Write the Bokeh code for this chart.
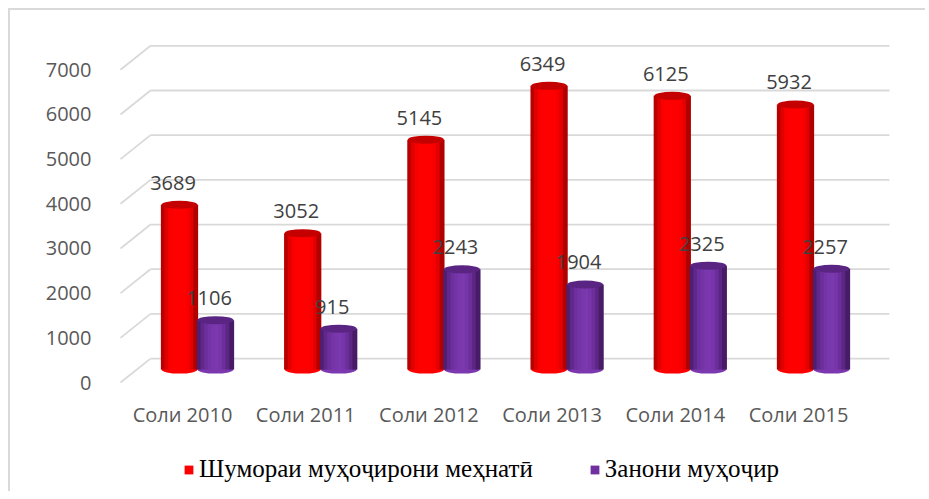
from bokeh.plotting import figure
from bokeh.layouts import column
from bokeh.models import Range1d, FixedTicker, Legend, LegendItem
from bokeh.core.properties import value
from bokeh.embed import file_html
from bokeh.resources import INLINE

# ---------------- data ----------------
categories = ["Соли 2010", "Соли 2011", "Соли 2012", "Соли 2013", "Соли 2014", "Соли 2015"]
labour_migrants = [3689, 3052, 5145, 6349, 6125, 5932]
women_migrants = [1106, 915, 2243, 1904, 2325, 2257]
series_names = ["Шумораи муҳоҷирони меҳнатӣ", "Занони муҳоҷир"]
y_ticks = [0, 1000, 2000, 3000, 4000, 5000, 6000, 7000]

# ---------------- geometry (pixels) ----------------
W, H1, H2 = 915, 420, 61
FRAME_L, FRAME_R, FRAME_T, FRAME_B = 95, 915, 0, 380   # canvas px
CAT_STEP = 123.2            # px per category
FIRST_CAT = 172.0           # canvas px of first category centre (front plane)
PX_PER_UNIT = 0.0448        # px per value unit
FRONT_ZERO = 373.0          # canvas px of value 0 on front plane
MID_ZERO = 360.0            # value 0 for the cylinders (mid depth)
BACK_DY = 24.0              # px the back wall is raised
MID_DX = 15.0               # px the cylinders are shifted right
DIAG_X0, DIAG_X1, GRID_X1 = 110.0, 140.0, 879.0   # canvas px

def xu(px):
    return (px - FIRST_CAT) / CAT_STEP

xs, xe = xu(FRAME_L), xu(FRAME_R)
ys = -(FRAME_B - FRONT_ZERO) / PX_PER_UNIT
ye = ys + (FRAME_B - FRAME_T) / PX_PER_UNIT
ys_mid = -(FRAME_B - MID_ZERO) / PX_PER_UNIT
dx_mid = MID_DX / CAT_STEP
back_du = BACK_DY / PX_PER_UNIT

p = figure(width=W, height=H1, x_range=Range1d(xs, xe), y_range=Range1d(ys, ye),
           output_backend="svg", toolbar_location=None,
           min_border_left=FRAME_L, min_border_right=0, min_border_top=0,
           min_border_bottom=H1 - FRAME_B)
p.extra_x_ranges = {"mid": Range1d(xs - dx_mid, xe - dx_mid)}
p.extra_y_ranges = {"mid": Range1d(ys_mid, ys_mid + (ye - ys))}
p.outline_line_color = None
p.background_fill_color = "white"
p.border_fill_color = "white"
p.grid.visible = False

# ---------------- 3D wall gridlines ----------------
gx0 = [xu(DIAG_X0)] * len(y_ticks)
gx1 = [xu(DIAG_X1)] * len(y_ticks)
gx2 = [xu(GRID_X1)] * len(y_ticks)
yb = [v + back_du for v in y_ticks]
p.segment(x0=gx0, y0=y_ticks, x1=gx1, y1=yb, line_color="#d9d9d9", line_width=1.8)
p.segment(x0=gx1, y0=yb, x1=gx2, y1=yb, line_color="#d9d9d9", line_width=1.8)

# ---------------- cylinders ----------------
BAR_W = 36.0 / CAT_STEP
red_strips = ["#b80000", "#e00000", "#f60000", "#ff0000", "#ff0000", "#ff0000",
              "#ff0000", "#f80000", "#e40000", "#b00000"]
purple_strips = ["#4e1f70", "#61288c", "#6d2f9d", "#7434a6", "#7937ac", "#7b38af",
                 "#7635a9", "#6b2e9a", "#5c2684", "#471b66"]
series = [
    (labour_migrants, -BAR_W / 2, red_strips, "#c40000"),
    (women_migrants, BAR_W / 2, purple_strips, "#5a2582"),
]
for vals, off, strips, cap in series:
    xc = [i + off for i in range(len(categories))]
    p.ellipse(x=xc, y=[0] * len(xc), width=BAR_W, height=8, height_units="screen",
              fill_color=strips[5], line_color=None, x_range_name="mid", y_range_name="mid")
    n = len(strips)
    sw = BAR_W / n
    for j, col in enumerate(strips):
        sx = [x - BAR_W / 2 + sw * (j + 0.5) for x in xc]
        p.vbar(x=sx, width=sw * 1.35, bottom=0, top=vals, fill_color=col,
               line_color=None, x_range_name="mid", y_range_name="mid")
    p.ellipse(x=xc, y=vals, width=BAR_W, height=8, height_units="screen",
              fill_color=cap, line_color=None, x_range_name="mid", y_range_name="mid")
    p.text(x=xc, y=vals, text=[str(v) for v in vals], x_offset=-6.5, y_offset=-22,
           text_align="center", text_baseline="middle", text_font=value("Open Sans"),
           text_font_size="20px", text_color="#404040",
           x_range_name="mid", y_range_name="mid")

# ---------------- axes ----------------
p.yaxis.ticker = FixedTicker(ticks=y_ticks)
p.yaxis.axis_line_color = None
p.yaxis.major_tick_line_color = None
p.yaxis.minor_tick_line_color = None
p.yaxis.major_label_standoff = 8
p.yaxis.major_label_text_font = "Open Sans"
p.yaxis.major_label_text_font_size = "20px"
p.yaxis.major_label_text_color = "#595959"

p.xaxis.ticker = FixedTicker(ticks=list(range(len(categories))))
p.xaxis.major_label_overrides = {i: c for i, c in enumerate(categories)}
p.xaxis.axis_line_color = None
p.xaxis.major_tick_line_color = None
p.xaxis.minor_tick_line_color = None
p.xaxis.major_label_standoff = 5
p.xaxis.major_label_text_font = "Open Sans"
p.xaxis.major_label_text_font_size = "20px"
p.xaxis.major_label_text_color = "#595959"

# ---------------- legend (own strip below) ----------------
q = figure(width=W, height=H2, x_range=Range1d(0, 1), y_range=Range1d(0, 1),
           x_axis_type=None, y_axis_type=None,
           output_backend="svg", toolbar_location=None,
           min_border_left=FRAME_L, min_border_right=0, min_border_top=0, min_border_bottom=0)
q.grid.visible = False
q.outline_line_color = None
colors = ["#ff0000", "#7030a0"]
items = []
for name, col in zip(series_names, colors):
    r = q.vbar(x=[0.5], bottom=[0], top=[0], width=0.0, fill_color=col, line_color=None)
    items.append(LegendItem(label=name, renderers=[r]))
legend = Legend(items=items, orientation="horizontal", location=(78, 8),
                border_line_color=None, background_fill_alpha=0,
                label_text_font="Liberation Serif", label_text_font_size="25px",
                label_text_color="#000000", glyph_width=11, glyph_height=11,
                label_standoff=5, spacing=56, padding=0, margin=0)
q.add_layout(legend)

page = column(p, q, spacing=0,
              styles={"border-left": "2px solid #d9d9d9", "border-top": "2px solid #d9d9d9",
                      "margin-left": "8px", "margin-top": "8px"})
open("out.html", "w").write(file_html(page, INLINE))
